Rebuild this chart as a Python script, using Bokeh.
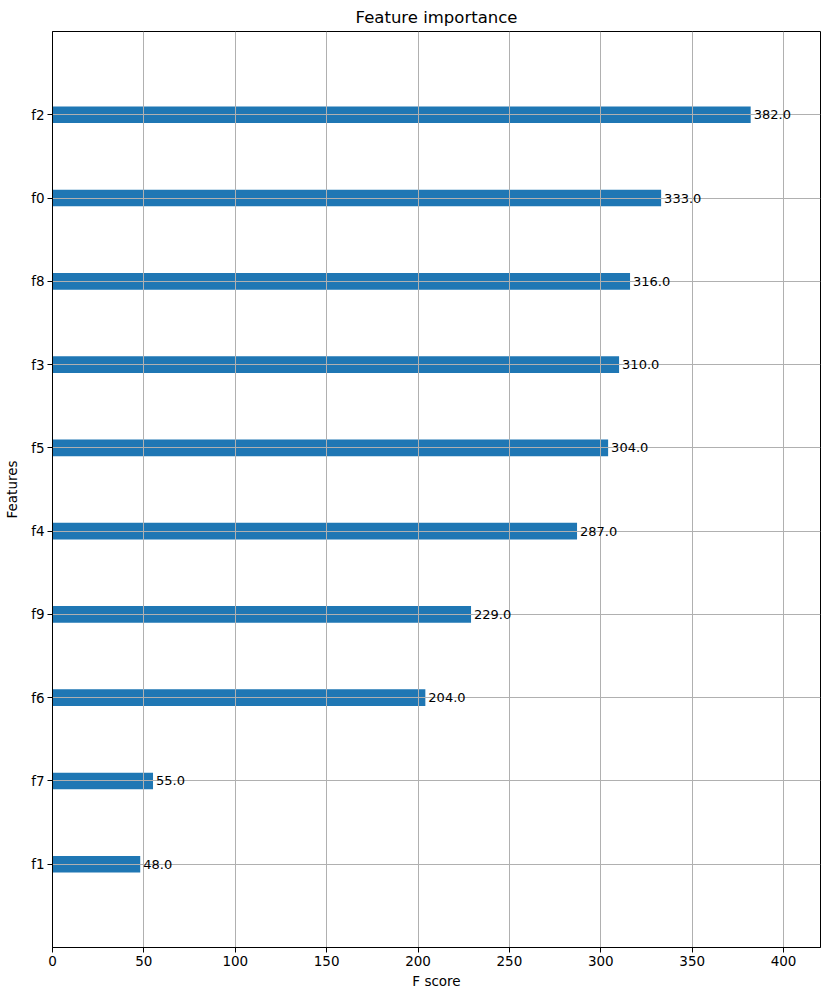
from bokeh.plotting import figure
from bokeh.models import Range1d, FixedTicker, ColumnDataSource
from bokeh.embed import file_html
from bokeh.resources import INLINE
from bokeh.core.properties import value

features = ["f1", "f7", "f6", "f9", "f4", "f5", "f3", "f8", "f0", "f2"]
scores = [48, 55, 204, 229, 287, 304, 310, 316, 333, 382]
x_ticks = [0, 50, 100, 150, 200, 250, 300, 350, 400]

ypos = list(range(len(features)))
src = ColumnDataSource(dict(y=ypos, score=scores, lab=[f"{s:.1f}" for s in scores],
                            feat=features))

FONT = "DejaVu Sans"
p = figure(width=822, height=991, output_backend="svg", toolbar_location=None,
           x_range=Range1d(0, max(scores) * 1.1), y_range=Range1d(-1, len(features)),
           min_border_left=52, min_border_right=2, min_border_top=30, min_border_bottom=40,
           title="Feature importance")
p.title.align = "center"
p.title.text_font = FONT
p.title.text_font_size = "16.5px"
p.title.text_font_style = "normal"
p.title.text_color = "black"

bars = p.hbar(y="y", right="score", left=0, height=0.2, source=src,
              fill_color="#1f77b4", line_color=None)
bars.level = "image"
p.text(x="score", y="y", text="lab", source=src, x_offset=3,
       text_font=value(FONT), text_font_size="13px", text_baseline="middle",
       text_align="left", text_color="black")

p.xaxis.ticker = FixedTicker(ticks=x_ticks)
p.yaxis.ticker = FixedTicker(ticks=ypos)
p.yaxis.major_label_overrides = {i: f for i, f in enumerate(features)}
p.xaxis.axis_label = "F score"
p.yaxis.axis_label = "Features"
for ax in (p.xaxis, p.yaxis):
    ax.axis_label_text_font = FONT
    ax.axis_label_text_font_size = "13.5px"
    ax.axis_label_text_font_style = "normal"
    ax.axis_label_text_color = "black"
    ax.major_label_text_font = FONT
    ax.major_label_text_font_size = "13.5px"
    ax.major_label_text_color = "black"
    ax.major_tick_out = 5
    ax.major_tick_in = 0
    ax.minor_tick_out = 0
    ax.minor_tick_in = 0
    ax.axis_line_color = "black"
    ax.major_tick_line_color = "black"
p.xaxis.axis_label_standoff = 4
p.yaxis.axis_label_standoff = 8
p.xaxis.major_label_standoff = 3
p.yaxis.major_label_standoff = 3

p.grid.grid_line_color = "#b0b0b0"
p.grid.grid_line_width = 1
p.outline_line_color = "black"
p.outline_line_alpha = 1
p.outline_line_width = 1

open("out.html", "w").write(file_html(p, INLINE))
